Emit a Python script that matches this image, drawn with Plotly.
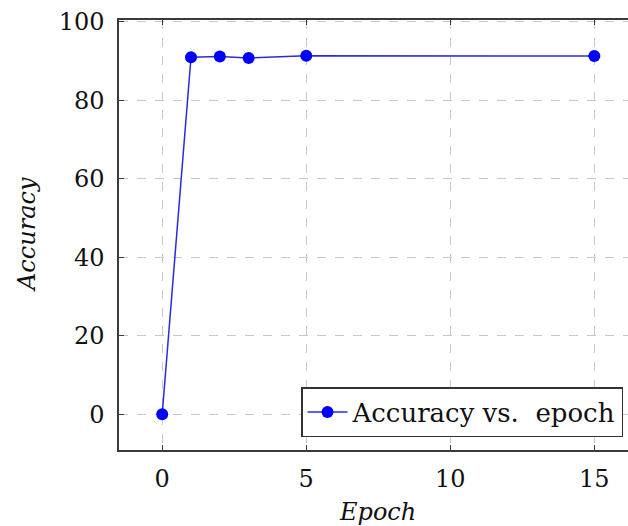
import plotly.graph_objects as go

epochs = [0, 1, 2, 3, 5, 15]
accuracy = [0.0, 91.0, 91.2, 90.8, 91.4, 91.3]
x_ticks = [0, 5, 10, 15]
y_ticks = [0, 20, 40, 60, 80, 100]
series_name = "Accuracy vs.\u00a0 epoch"
x_title = "Epoch"
y_title = "Accuracy"

FONT = "DejaVu Serif"
W, H = 628, 526
L, T, B = 119, 20, 76
R = 0
plot_w = W - L - R
plot_h = H - T - B

fig = go.Figure()
fig.add_trace(go.Scatter(
    x=epochs, y=accuracy, mode="lines+markers", name=series_name,
    line=dict(color="#2a2ae0", width=1.5),
    marker=dict(color="#0000ff", size=12, line=dict(color="#0000ff", width=0)),
))

axis_col = "#3a3a3a"
grid_col = "#c8c8c8"

fig.update_layout(
    width=W, height=H,
    margin=dict(l=L, r=R, t=T, b=B, autoexpand=False),
    paper_bgcolor="white", plot_bgcolor="white",
    font=dict(family=FONT, size=24, color="#111111"),
    showlegend=True,
    legend=dict(
        x=(623 - L) / plot_w, y=(450 - 437) / plot_h,
        xanchor="right", yanchor="bottom",
        bgcolor="white", bordercolor="#333333", borderwidth=1.5,
        font=dict(family=FONT, size=26, color="#111111"),
        itemwidth=40, tracegroupgap=0,
    ),
    xaxis=dict(
        range=[-1.5, 16.17], tickmode="array", tickvals=x_ticks,
        ticktext=[str(v) for v in x_ticks],
        showgrid=True, gridcolor=grid_col, griddash="dash", gridwidth=1,
        zeroline=False, showline=True, linecolor=axis_col, linewidth=1.5,
        mirror="ticks", ticks="inside", ticklen=5, tickcolor=axis_col, tickwidth=1,
        ticklabelstandoff=6,
        tickfont=dict(family=FONT, size=24, color="#111111"),
    ),
    yaxis=dict(
        range=[-9.14, 100.5], tickmode="array", tickvals=y_ticks,
        ticktext=[str(v) for v in y_ticks],
        showgrid=True, gridcolor=grid_col, griddash="dash", gridwidth=1,
        zeroline=False, showline=True, linecolor=axis_col, linewidth=1.5,
        mirror=False, ticks="inside", ticklen=5, tickcolor=axis_col, tickwidth=1,
        ticklabelstandoff=8,
        tickfont=dict(family=FONT, size=24, color="#111111"),
    ),
    annotations=[
        dict(text="<i>" + x_title + "</i>", xref="paper", yref="paper",
             x=(377.5 - L) / plot_w, y=(450 - 512) / plot_h,
             xanchor="center", yanchor="middle", showarrow=False,
             font=dict(family=FONT, size=24, color="#111111")),
        dict(text="<i>" + y_title + "</i>", xref="paper", yref="paper",
             x=(27 - L) / plot_w, y=0.5, textangle=-90,
             xanchor="center", yanchor="middle", showarrow=False,
             font=dict(family=FONT, size=24, color="#111111")),
    ],
)

fig.write_html("out.html")
